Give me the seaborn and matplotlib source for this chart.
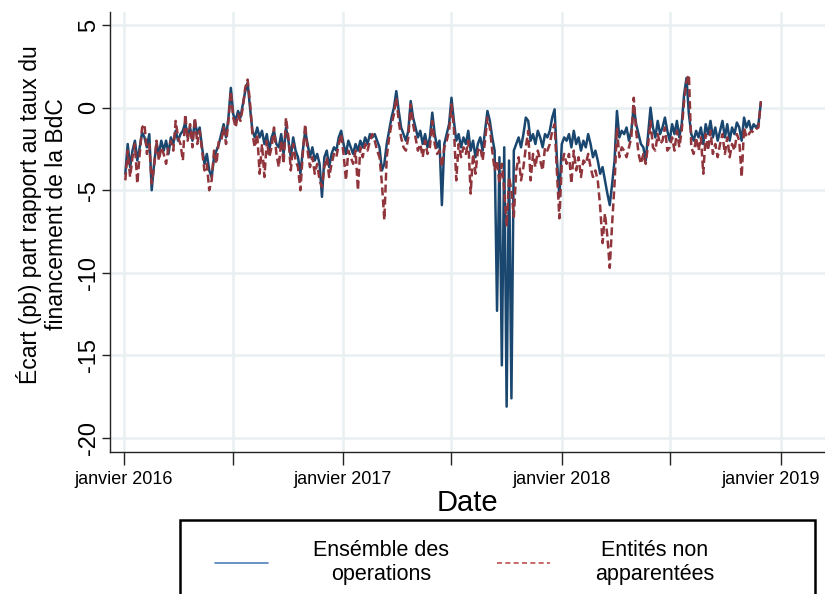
import numpy as np
import pandas as pd
import seaborn as sns
import matplotlib.pyplot as plt
import matplotlib.transforms as mtransforms
from matplotlib.lines import Line2D
from matplotlib.patches import Rectangle

# Spread (bp) vs BdC funding rate, one reading every 4 days from 4 Jan 2016
start_date = "2016-01-04"

ensemble = [
    -4.0, -2.2, -3.6, -2.6, -2.0, -3.2, -2.4, -1.5,
    -1.8, -2.4, -1.6, -5.0, -3.4, -2.2, -2.8, -2.0,
    -2.6, -2.0, -2.8, -1.8, -2.2, -1.4, -2.0, -1.6,
    -1.4, -0.9, -1.8, -1.2, -2.0, -0.8, -1.6, -1.2,
    -2.4, -3.4, -2.8, -3.8, -4.2, -3.0, -2.6, -2.2,
    -1.6, -1.0, -1.8, -0.6, 1.2, -0.4, -0.8, -0.2,
    -0.6, 0.2, 1.0, 1.5, 0.0, -1.4, -1.8, -1.2,
    -1.8, -1.4, -2.2, -1.6, -2.6, -1.8, -1.4, -2.2,
    -2.4, -1.6, -2.8, -1.2, -2.0, -3.0, -1.8, -2.6,
    -3.0, -4.0, -2.6, -1.4, -2.2, -3.0, -2.4, -3.2,
    -2.8, -3.4, -5.4, -3.0, -2.6, -3.6, -2.8, -2.4,
    -2.6, -1.8, -1.4, -2.2, -2.8, -2.0, -2.4, -2.8,
    -2.2, -2.6, -2.0, -2.4, -1.8, -2.2, -1.6, -1.8,
    -1.6, -2.0, -2.4, -3.8, -3.4, -2.2, -1.4, -0.6,
    0.0, 1.0, -0.2, -1.2, -1.6, -2.0, -1.4, 0.4,
    -0.6, -1.2, -1.8, -1.4, -2.2, -1.6, -2.4, -1.8,
    -0.3, -1.6, -2.4, -2.0, -5.9, -2.2, -1.6, -1.0,
    0.6, -0.8, -2.0, -1.6, -2.4, -1.8, -2.2, -1.4,
    -2.6, -2.0, -3.0, -2.2, -1.8, -2.6, -1.4, -0.2,
    -0.8, -1.8, -2.6, -12.3, -3.0, -15.6, -2.4, -18.1,
    -3.2, -17.6, -2.6, -2.2, -1.8, -2.4, -1.6, -0.6,
    -0.8, -2.0, -1.6, -2.2, -1.4, -1.8, -2.4, -1.6,
    -1.8, -1.4, -0.6, -0.1, -3.2, -5.4, -2.2, -1.8,
    -2.0, -1.6, -2.4, -1.4, -2.2, -1.8, -2.6, -2.0,
    -2.4, -1.6, -2.2, -3.0, -2.6, -3.2, -4.0, -3.6,
    -4.4, -5.2, -5.9, -4.6, -3.2, -0.2, -1.8, -1.4,
    -1.6, -1.2, -2.0, -1.4, 0.1, -1.0, -1.6, -2.2,
    -2.4, -3.2, -1.6, 0.0, -1.2, -1.8, -0.8, -1.6,
    -1.2, -0.6, -1.4, -2.0, -1.0, -1.6, -0.8, -1.8,
    -1.0, 0.8, 1.8, -0.4, -1.6, -2.0, -1.4, -1.8,
    -1.2, -2.2, -1.0, -1.6, -0.8, -1.8, -1.2, -2.0,
    -1.4, -0.8, -1.8, -1.0, -2.0, -1.2, -1.6, -0.9,
    -1.2, -2.0, -0.6, -1.2, -0.8, -1.4, -1.0, -1.2,
    -1.0, 0.3,
]

non_apparentees = [
    -4.4, -2.6, -4.2, -3.0, -2.2, -4.6, -2.8, -1.2,
    -1.0, -2.8, -2.2, -4.6, -3.6, -2.0, -3.2, -2.4,
    -2.8, -3.4, -2.4, -2.0, -2.6, -0.8, -1.8, -2.2,
    -3.2, -0.4, -2.0, -1.0, -2.4, -0.6, -2.2, -1.4,
    -2.6, -3.8, -3.4, -5.0, -4.4, -2.6, -3.4, -2.0,
    -2.0, -1.2, -2.2, -0.8, 1.0, -0.6, -1.2, -0.4,
    -0.8, 0.0, 1.2, 1.7, 0.3, -1.6, -2.4, -1.6,
    -4.0, -2.2, -4.2, -2.0, -3.0, -2.4, -1.2, -2.8,
    -3.6, -2.0, -3.4, -0.6, -1.8, -3.8, -2.2, -3.2,
    -3.6, -5.0, -2.8, -1.0, -2.6, -3.6, -3.0, -4.0,
    -3.4, -4.4, -4.8, -3.6, -3.0, -4.2, -3.4, -2.8,
    -3.0, -2.2, -1.6, -2.8, -4.4, -2.6, -3.0, -3.4,
    -2.6, -5.0, -2.4, -3.0, -2.2, -2.6, -2.0, -1.6,
    -2.0, -2.6, -3.0, -4.6, -6.8, -3.0, -1.8, -1.0,
    -0.4, 0.6, -0.8, -1.8, -2.4, -2.6, -1.8, 0.2,
    -1.0, -1.8, -2.6, -2.2, -3.0, -2.0, -2.8, -2.4,
    -0.8, -2.2, -2.8, -2.6, -3.6, -2.4, -2.0, -1.4,
    0.2, -1.2, -4.4, -2.2, -3.0, -2.4, -2.8, -2.0,
    -5.2, -2.8, -4.0, -2.6, -2.4, -3.2, -2.0, -0.6,
    -1.2, -2.6, -3.8, -3.2, -4.6, -3.4, -5.0, -7.2,
    -4.2, -5.0, -6.6, -3.8, -3.0, -4.4, -3.6, -2.4,
    -1.4, -4.4, -2.8, -3.6, -2.6, -3.2, -3.8, -2.4,
    -2.6, -2.2, -1.4, -1.0, -4.0, -6.7, -3.4, -2.8,
    -3.4, -2.8, -4.6, -2.6, -3.8, -3.0, -4.2, -3.2,
    -3.4, -2.8, -3.6, -4.2, -3.8, -4.4, -6.0, -8.2,
    -6.4, -7.8, -9.7, -7.0, -4.6, -1.2, -3.0, -2.4,
    -2.6, -3.0, -2.4, -1.8, 0.6, -1.4, -2.8, -3.4,
    -2.8, -3.4, -2.2, -0.8, -2.4, -2.6, -1.6, -2.2,
    -2.0, -1.2, -2.6, -2.4, -1.8, -2.6, -1.4, -2.4,
    -1.4, 0.4, 1.6, 2.0, -2.4, -2.8, -1.8, -2.6,
    -1.8, -4.0, -1.6, -2.6, -1.4, -2.8, -2.2, -3.0,
    -2.2, -1.6, -2.8, -1.8, -3.0, -2.2, -2.6, -1.6,
    -2.0, -4.2, -1.2, -1.8, -1.6, -1.4, -1.5, -1.3,
    -1.2, 0.4,
]

tick_dates = ["2016-01-01", "2017-01-01", "2018-01-01", "2019-01-01"]
tick_labels = ["janvier 2016", "janvier 2017", "janvier 2018", "janvier 2019"]
minor_dates = ["2016-07-01", "2017-07-01", "2018-07-01"]
y_ticks = [5, 0, -5, -10, -15, -20]
legend_labels = ["Ensémble des\noperations", "Entités non\napparentées"]

df = pd.DataFrame({
    "date": pd.date_range(start_date, periods=len(ensemble), freq="4D"),
    "ensemble": ensemble,
    "non_app": non_apparentees,
})

sns.set_style("white")
plt.rcParams["font.family"] = ["Liberation Sans", "DejaVu Sans"]
plt.rcParams["axes.unicode_minus"] = False
for key in ["text.color", "axes.labelcolor", "xtick.color", "ytick.color"]:
    plt.rcParams[key] = "black"

fig = plt.figure(figsize=(8.25, 5.94), dpi=100)
ax = fig.add_axes([0.133, 0.239, 0.867, 0.741])

grid_col = "#e8f0f2"
sns.lineplot(data=df, x="date", y="ensemble", color="#1a476f", lw=1.8, ax=ax, zorder=3)
sns.lineplot(data=df, x="date", y="non_app", color="#90353b", lw=1.8,
             linestyle=(0, (3.2, 1.6)), ax=ax, zorder=4)

ax.set_xlim(pd.Timestamp("2015-12-09"), pd.Timestamp("2019-03-16"))
ax.set_ylim(-20.85, 5.8)

ax.set_xticks(pd.to_datetime(tick_dates))
ax.set_xticklabels(tick_labels)
ax.set_xticks(pd.to_datetime(minor_dates), minor=True)
ax.set_yticks(y_ticks)
ax.grid(True, which="both", color=grid_col, lw=1.8, zorder=0)
ax.set_axisbelow(True)

ax.tick_params(axis="x", which="both", direction="out", length=9, width=1,
               color="#222222", labelsize=13, labelcolor="black", pad=5, bottom=True)
ax.tick_params(axis="y", direction="out", length=6, width=1, color="#222222",
               labelsize=17, labelcolor="black", pad=1, left=True)
plt.setp(ax.get_yticklabels(), rotation=90, va="center")

# last date label sits a little left of its tick, as in the source
last = ax.get_xticklabels()[-1]
last.set_transform(last.get_transform() +
                   mtransforms.ScaledTranslation(-10 / 100, 0, fig.dpi_scale_trans))

sns.despine(ax=ax)
for s in ["left", "bottom"]:
    ax.spines[s].set_color("#222222")
    ax.spines[s].set_linewidth(1)

ax.set_ylabel("Écart (pb) part rapport au taux du\nfinancement de la BdC",
              fontsize=16.5, color="black")
ax.yaxis.set_label_coords(-0.058, 0.54)
ax.set_xlabel("Date", fontsize=21, color="black")
ax.xaxis.set_label_coords(0.5, -0.083)

# legend box (Excel-style frame, cut by the bottom edge)
fig.patches.append(Rectangle((180 / 825, -0.05), 635 / 825, 1 - 520 / 594 + 0.05,
                             transform=fig.transFigure, fill=False,
                             lw=1.8, ec="black", zorder=5))
handles = [
    Line2D([], [], color="#4f81bd", lw=1.2),
    Line2D([], [], color="#c0504d", lw=1.2, linestyle=(0, (3, 2))),
]
leg = fig.legend(handles=handles, labels=legend_labels, ncol=2, loc="upper left",
                 bbox_to_anchor=(215 / 825, 1 - 540 / 594), frameon=False,
                 fontsize=15.5, handlelength=2.46, handletextpad=2.1,
                 columnspacing=2.23, borderpad=0, borderaxespad=0)
for t in leg.get_texts():
    t.set_multialignment("center")
    t.set_color("black")

fig.savefig("out.png", dpi=100)
